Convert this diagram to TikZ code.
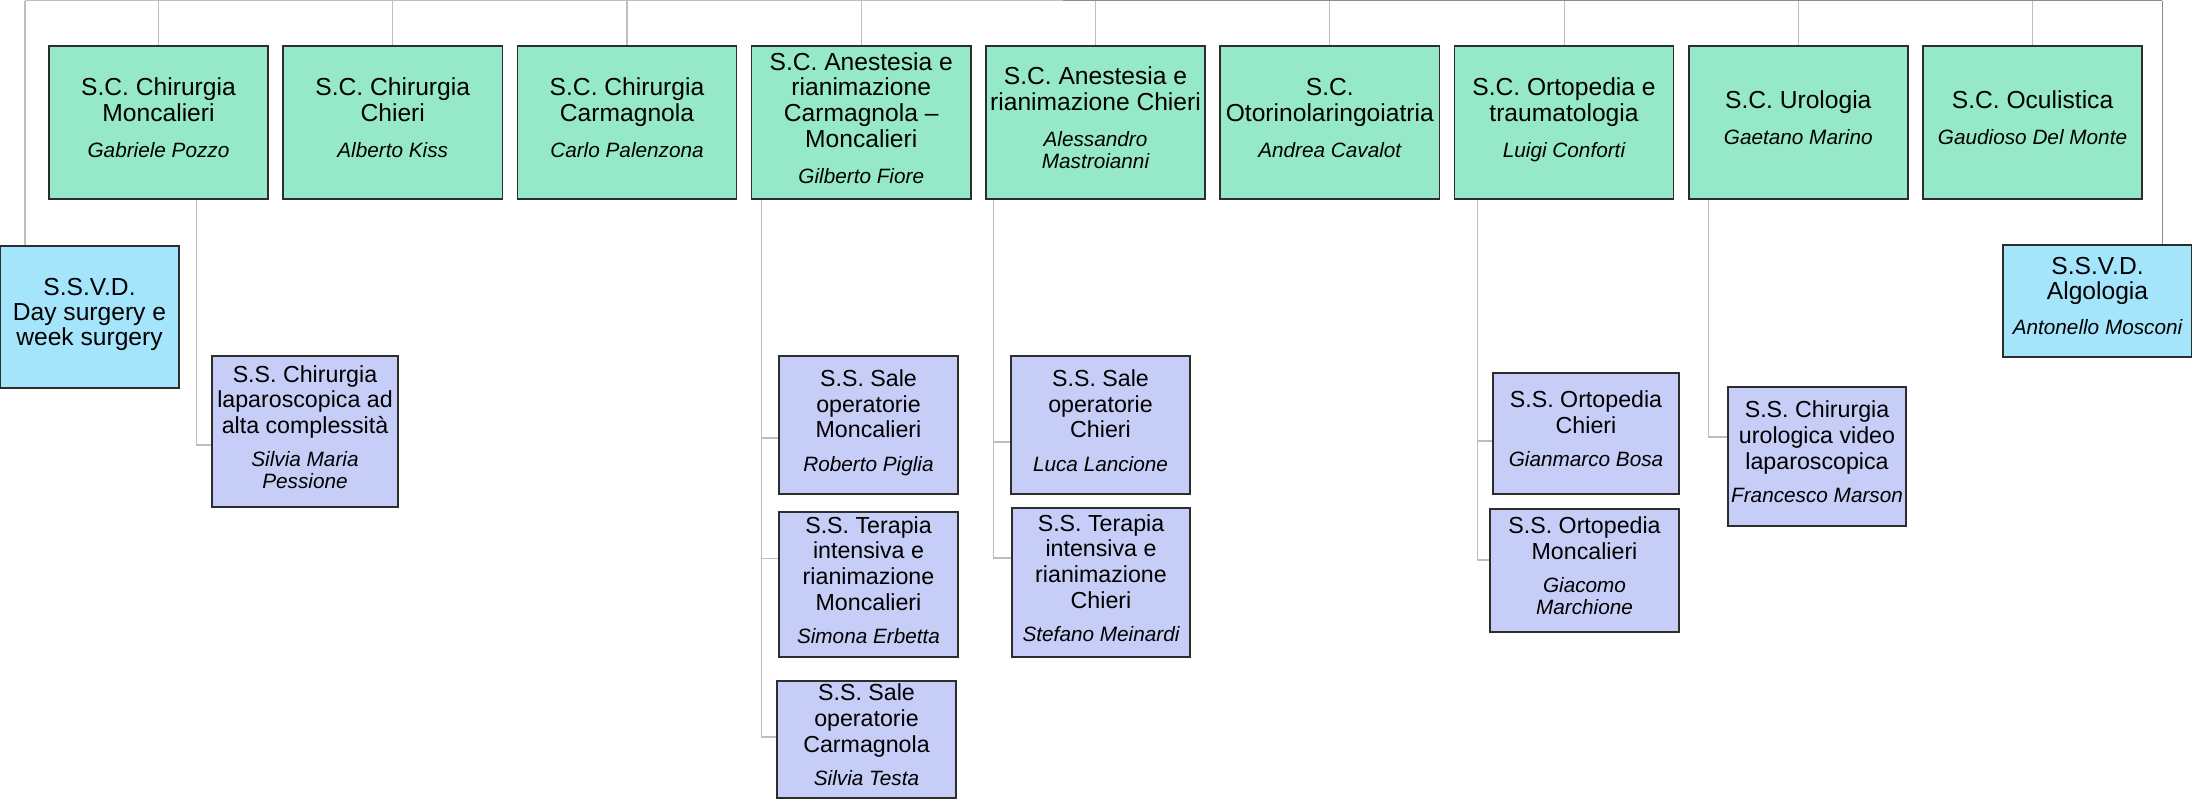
\documentclass[tikz,border=0pt]{standalone}
\usepackage{fontspec}
\setmainfont{Liberation Sans}
\usepackage{tikz}
\usetikzlibrary{calc}

\definecolor{scgreen}{RGB}{150,233,200}
\definecolor{svdblue}{RGB}{165,229,252}
\definecolor{sslilac}{RGB}{198,205,246}
\definecolor{boxline}{RGB}{45,45,45}
\definecolor{linklight}{RGB}{190,190,190}
\definecolor{linkdark}{RGB}{140,140,140}

\newcommand{\who}[1]{{\fontsize{5.9}{6.6}\selectfont\itshape #1}}

\tikzset{
    sc/.style={draw=boxline, fill=scgreen, line width=0.45pt, inner sep=0pt,
        minimum width=2.19cm, minimum height=1.53cm, align=center,
        text depth=2.7pt, font=\fontsize{7}{7.3}\selectfont},
    svd/.style={draw=boxline, fill=svdblue, line width=0.45pt, inner sep=0pt,
        align=center, text depth=2.8pt, font=\fontsize{7}{7.2}\selectfont},
    ss/.style={draw=boxline, fill=sslilac, line width=0.45pt, inner sep=0pt,
        align=center, text depth=2.6pt, font=\fontsize{6.6}{7.3}\selectfont},
    link/.style={draw=linklight, line width=0.3pt},
    linkd/.style={draw=linkdark, line width=0.3pt}
}

\begin{document}
\begin{tikzpicture}[x=0.01cm, y=-0.01cm]
    \useasboundingbox (0,0) rectangle (2192,800);

    %Top row
    \node[sc] (chmon) at (158.5,122.5) {S.C. Chirurgia\\Moncalieri\\[3pt]\who{Gabriele Pozzo}};
    \node[sc] (chchi) at (392.75,122.5) {S.C. Chirurgia\\Chieri\\[3pt]\who{Alberto Kiss}};
    \node[sc] (chcar) at (627,122.5) {S.C. Chirurgia\\Carmagnola\\[3pt]\who{Carlo Palenzona}};
    \node[sc] (anmon) at (861.25,122.5) {S.C. Anestesia e\\rianimazione\\Carmagnola --\\Moncalieri\\[3pt]\who{Gilberto Fiore}};
    \node[sc] (anchi) at (1095.5,122.5) {S.C. Anestesia e\\rianimazione Chieri\\[3pt]\who{Alessandro}\\[-0.9pt]\who{Mastroianni}};
    \node[sc] (otor) at (1329.75,122.5) {S.C.\\Otorinolaringoiatria\\[3pt]\who{Andrea Cavalot}};
    \node[sc] (orto) at (1564,122.5) {S.C. Ortopedia e\\traumatologia\\[3pt]\who{Luigi Conforti}};
    \node[sc] (urol) at (1798.25,122.5) {S.C. Urologia\\[3pt]\who{Gaetano Marino}};
    \node[sc] (ocul) at (2032.5,122.5) {S.C. Oculistica\\[3pt]\who{Gaudioso Del Monte}};

    %S.S.V.D. boxes
    \node[svd, minimum width=1.79cm, minimum height=1.42cm] (day) at (89.5,317) {S.S.V.D.\\Day surgery e\\week surgery};
    \node[svd, minimum width=1.89cm, minimum height=1.12cm] (algo) at (2097.5,301) {S.S.V.D.\\Algologia\\[2.8pt]\who{Antonello Mosconi}};

    %S.S. boxes
    \node[ss, minimum width=1.86cm, minimum height=1.51cm] (lapa) at (305,431.5) {S.S. Chirurgia\\laparoscopica ad\\alta complessit\`a\\[2.2pt]\who{Silvia Maria}\\[-1.1pt]\who{Pessione}};
    \node[ss, minimum width=1.79cm, minimum height=1.38cm] (salmon) at (868.5,425) {S.S. Sale\\operatorie\\Moncalieri\\[2.2pt]\who{Roberto Piglia}};
    \node[ss, minimum width=1.79cm, minimum height=1.45cm] (termon) at (868.5,584.5) {S.S. Terapia\\intensiva e\\rianimazione\\Moncalieri\\[2.2pt]\who{Simona Erbetta}};
    \node[ss, minimum width=1.79cm, minimum height=1.17cm] (salcar) at (866.5,739.5) {S.S. Sale\\operatorie\\Carmagnola\\[2.2pt]\who{Silvia Testa}};
    \node[ss, minimum width=1.79cm, minimum height=1.38cm] (salchi) at (1100.5,425) {S.S. Sale\\operatorie\\Chieri\\[2.2pt]\who{Luca Lancione}};
    \node[ss, minimum width=1.78cm, minimum height=1.49cm] (terchi) at (1101,582.5) {S.S. Terapia\\intensiva e\\rianimazione\\Chieri\\[2.2pt]\who{Stefano Meinardi}};
    \node[ss, minimum width=1.86cm, minimum height=1.21cm] (ortchi) at (1586,433.5) {S.S. Ortopedia\\Chieri\\[2.2pt]\who{Gianmarco Bosa}};
    \node[ss, minimum width=1.89cm, minimum height=1.23cm] (ortmon) at (1584.5,570.5) {S.S. Ortopedia\\Moncalieri\\[2.2pt]\who{Giacomo}\\[-1.1pt]\who{Marchione}};
    \node[ss, minimum width=1.78cm, minimum height=1.39cm] (urovid) at (1817,456.5) {S.S. Chirurgia\\urologica video\\laparoscopica\\[2.2pt]\who{Francesco Marson}};

    %Top bar
    \coordinate (tl) at (25,0.7);
    \coordinate (tm) at (1063,0.7);
    \coordinate (tr) at (2162,0.7);
    \draw[link] (tl) -- (tm);
    \draw[linkd] (tm) -- (tr);
    \draw[link] (tl) -- (tl |- day.north);
    \draw[linkd] (tr) -- (tr |- algo.north);
    \foreach \b in {chmon,chchi,chcar,anmon,anchi,otor,orto,urol,ocul}
        \draw[link] (\b.north) -- (\b.north |- tl);

    %Sub units
    \draw[link] ($(chmon.south -| lapa.west)+(-15,0)$) |- ($(lapa.west)+(0,13.5)$);
    \draw[link] ($(anmon.south -| salmon.west)+(-17,0)$) |- ($(salmon.west)+(0,13)$);
    \draw[link] ($(anmon.south -| salmon.west)+(-17,0)$) |- ($(termon.west)+(0,-26)$);
    \draw[link] ($(anmon.south -| salmon.west)+(-17,0)$) |- ($(salcar.west)+(0,-2.5)$);
    \draw[link] ($(anchi.south -| salchi.west)+(-17,0)$) |- ($(salchi.west)+(0,17)$);
    \draw[link] ($(anchi.south -| salchi.west)+(-17,0)$) |- ($(terchi.west)+(0,-24.5)$);
    \draw[link] ($(orto.south -| ortchi.west)+(-15,0)$) |- ($(ortchi.west)+(0,7.5)$);
    \draw[link] ($(orto.south -| ortchi.west)+(-15,0)$) |- ($(ortmon.west)+(0,-10.5)$);
    \draw[link] ($(urol.south -| urovid.west)+(-19,0)$) |- ($(urovid.west)+(0,-19.5)$);
\end{tikzpicture}
\end{document}
